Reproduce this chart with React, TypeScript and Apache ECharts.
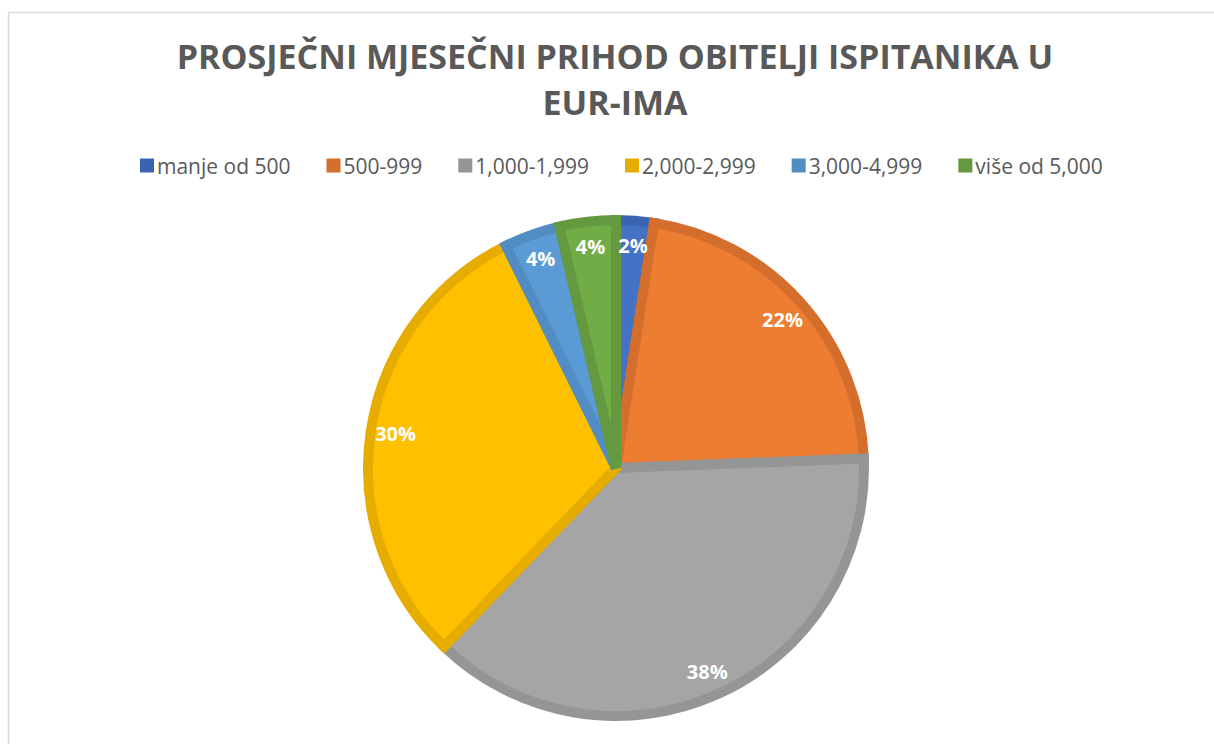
import React, { useEffect, useRef } from "react";
import * as echarts from "echarts";

const categories = ["manje od 500", "500-999", "1,000-1,999", "2,000-2,999", "3,000-4,999", "više od 5,000"];
const counts = [2, 18, 31, 25, 3, 3];
const fillColors = ["#4472C4", "#ED7D31", "#A5A5A5", "#FFC000", "#5B9BD5", "#70AD47"];
const edgeColors = ["#3B64B0", "#D46E2C", "#959595", "#E6AD00", "#518CC2", "#65993F"];
const titleLines = ["PROSJEČNI MJESEČNI PRIHOD OBITELJI ISPITANIKA U", "EUR-IMA"];

export default function App() {
  const ref = useRef<HTMLDivElement>(null);
  useEffect(() => {
    if (!ref.current) return;
    const chart = echarts.init(ref.current, null, { renderer: "svg" });
    const cx = 616;
    const cy = 468;
    chart.setOption({
      animation: false,
      backgroundColor: "#ffffff",
      legend: {
        top: 150,
        left: 135,
        itemWidth: 14,
        itemHeight: 14,
        itemGap: 36,
        icon: "rect",
        textStyle: { fontFamily: "Open Sans", fontSize: 21, color: "#595959", padding: [0, 0, 0, -2] },
        data: categories.map((c, i) => ({ name: c, itemStyle: { color: edgeColors[i], borderWidth: 0 } })),
      },
      graphic: [
        { type: "line", shape: { x1: 8.5, y1: 12, x2: 8.5, y2: 744 }, style: { stroke: "#d9d9d9", lineWidth: 1.5 } },
        { type: "line", shape: { x1: 8, y1: 12.5, x2: 1214, y2: 12.5 }, style: { stroke: "#d9d9d9", lineWidth: 1.5 } },
        {
          type: "text",
          x: 615,
          y: 33,
          style: {
            text: titleLines.join("\n"),
            textAlign: "center",
            textVerticalAlign: "top",
            fontFamily: "Open Sans",
            fontWeight: "bold",
            fontSize: 34,
            lineHeight: 46,
            fill: "#595959",
          },
        },
      ],
      series: [
        {
          type: "pie",
          center: [cx, cy],
          radius: [0, 248],
          startAngle: 90,
          clockwise: true,
          label: { show: false },
          labelLine: { show: false },
          emphasis: { disabled: true },
          silent: true,
          data: categories.map((c, i) => ({
            name: c,
            value: counts[i],
            itemStyle: { color: fillColors[i], borderColor: edgeColors[i], borderWidth: 10, borderJoin: "miter" },
          })),
        },
        {
          type: "pie",
          center: [cx, cy],
          radius: [192, 248],
          startAngle: 90,
          clockwise: true,
          silent: true,
          emphasis: { disabled: true },
          legendHoverLink: false,
          itemStyle: { color: "transparent", borderWidth: 0 },
          label: {
            show: true,
            position: "inside",
            formatter: (p: any) => Math.round(p.percent) + "%",
            fontFamily: "Open Sans",
            fontWeight: "bold",
            fontSize: 20,
            color: "#ffffff",
          },
          labelLine: { show: false },
          data: categories.map((c, i) => ({ name: c + " ", value: counts[i] })),
        },
      ],
    });
    return () => chart.dispose();
  }, []);
  return (
    <div style={{ position: "fixed", left: 0, top: 0, width: 1214, height: 744, overflow: "hidden", background: "#fff" }}>
      <div ref={ref} style={{ width: 1214, height: 744 }} />
    </div>
  );
}
